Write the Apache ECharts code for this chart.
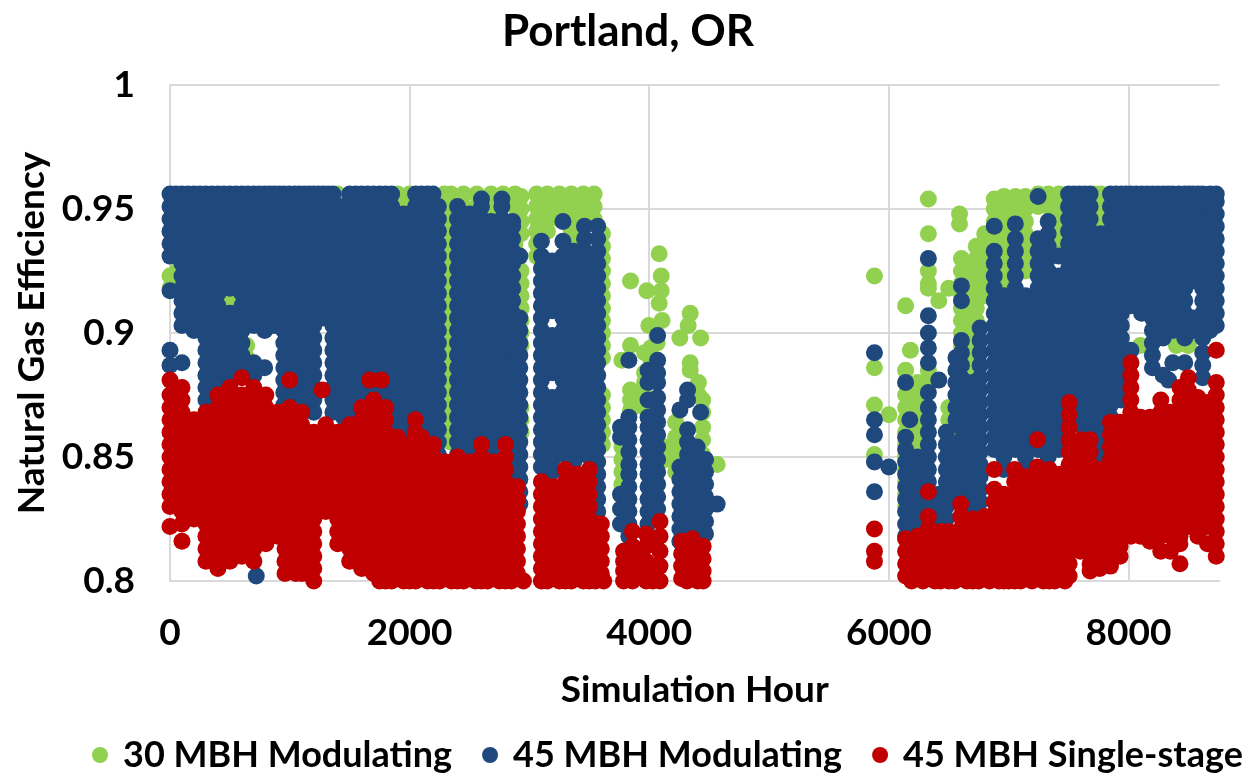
<!DOCTYPE html>
<html><head><meta charset="utf-8">
<script src="https://cdn.jsdelivr.net/npm/echarts@6/dist/echarts.min.js"></script>
<style>html,body{margin:0;padding:0;background:#fff}#c{width:1249px;height:775px}</style></head>
<body><div id="c"></div><script>
// Each row: [simulation hour, efficiency x 1000, ...].
const seriesNames = ['30 MBH Modulating','45 MBH Modulating','45 MBH Single-stage'];
const green30 = [
[0,923,918],[60,925],[200,905],[500,913,908],[640,895,890],
[1400,956,951],[1650,915],[1900,956,951],[2000,956,951],[2290,956],
[2345,956,951,946,941,936,931,926,921,916,911,906,901,896,891,886,881,876,871,866,861,856],
[2450,956,951],[2560,956,951],[2680,956,951,946],[2780,956],[2880,956,951,946,941,936,931,926,921,916],
[2930,955,950,945,940,925,920,915,910,905,900,895,870,865,860],
[3060,956,951,946,941,936,931],[3150,956,951,946,941],[3250,956,951,946],[3350,956,951,946,941,936],
[3450,956,951,946],[3540,956,951,946],[3610,940,935,930,925,920,915,910,905,900,895,890,875,870,865,860,855],
[3772,889,854,849,844,839,834],[3844,921,895,877,873,869],[3961,892,884,880,875,870],[3980,917],[3997,903],
[4014,894,889],[4066,896],[4083,932,912],[4100,923,917],[4107,905],[4135,854,849],
[4221,864,858,854,849,844],[4256,898],[4325,903],[4342,908,888,885],[4411,880,875],[4429,898],[4446,873,868,862,857,851,846],[4567,847],
[5880,923,886,871,851],[6000,867],
[6140,911,885,880,875,870,865,860,855,850,845,840,835,830],[6180,893],
[6240,880,875,870,865,860,855],[6330,954,940,925,920,918,885,880],[6417,913],
[6500,918,870,865,860,855,850,845,840],[6590,948,944],
[6606,930,925,920,915,910,905,900,895,890],[6660,925,920,915,905,900,895,890],
[6730,935,930,925,920,915,910,905,895,890,885],[6800,940,935,930,925,920,915],
[6880,954,950,945,940,935,930,925,920],[6960,955,950,945,940,935,930,925,920],
[7056,955,950,945,940,935,930],[7140,955,950,945,940,935,930,925],[7246,956,951],[7330,956,951],
[7420,956,951,946,941,936],[7720,956,951,946,941,936,931,926],[7770,956,951,946,931],
[8100,895],[8400,895],[8500,895]
];
const blue45 = [
[0,956,951,946,941,936,931,917,893,887],
[100,956,953,948,943,938,933,928,923,918,913,908,903,888],
[200,956,951,946,941,936,931,926,921,916,911,906,901],
[300,956,953,948,943,938,933,928,923,918,913,908,903,898,893,888,883,878,873],
[400,956,951,946,941,936,931,926,921,916,911,906,901,896,891,886,881,876,871],
[500,956,953,948,943,938,933,928,923,918,908,903,898,893,888,883,878],
[600,956,951,946,941,936,931,926,921,916,911,906,901,896,891,886],
[700,956,953,948,943,938,933,928,923,918,913,908,903,888,883],
[720,802],
[790,956,951,946,941,936,931,926,921,916,911,906,901,886],
[870,956,953,948,943,938,933,928,923,918,913,908,903],
[950,956,951,946,941,936,931,926,921,916,911,906,901,896,891,886,881,876,871],
[1040,956,953,948,943,938,933,928,923,918,913,908,903,898,893,888,883,878,873],
[1120,956,951,946,941,936,931,926,921,916,911,906,901,896,891,886,881,876,871],
[1200,956,953,948,943,938,933,928,923,918,913,908,903,898,893,888,883,878,873,868],
[1280,956,951,946,941,936,931,926,921,916,911,906],
[1360,956,953,948,943,938,933,928,923,918,913,908,903,898,893,888,883,878,873,868],
[1450,951,946,941,936,931,926,921,916,911,906,901,896,891,886,881,876,871,866],
[1550,956,953,948,943,938,933,928,923,918,913,908,903,898,893,888,883,878,873,868],
[1650,956,951,946,941,936,931,926,921,916,911,906,901,896,891,886,881,876,871],
[1750,956,953,948,943,938,933,928,923,918,913,908,903,898,893,888,883,878,873,868],
[1850,956,951,946,941,936,931,926,921,916,911,906,901,896,891,886,881,876,871,866,861,856],
[1950,948,943,938,933,928,923,918,913,908,903,898,893,888,883,878,873,868,863,858,853],
[2050,956,951,946,941,936,931,926,921,916,911,906,901,896,891,886,881,876,871,866,861],
[2150,956,953,948,943,938,933,928,923,918,913,908,903,898,893,888,883,878,873,868,863,858,853],
[2240,951,946,941,936,931,926,921,916,911,906,901,896,891,886,881,876,871,866,861,856,851,846,841,836],
[50,956],[150,956],[250,956],[350,956],[450,956],[550,956],[650,956],[745,956],[830,956],[910,956],[995,956],[1080,956],[1160,956],[1240,956],[1320,956],[1500,956],[1600,956],[1700,956],[1800,956],[2100,956],[2195,956],
[2400,951,946,941,936,931,926,921,916,911,906,901,896,891,886,881,876,871,866,861,856,851],
[2500,948,943,938,933,928,923,918,913,908,903,898,893,888,883,878,873,868,863,858,853,848],
[2600,954,951,946,941,936,931,926,921,916,911,906,901,896,891,886,881,876,871,866,861,856],
[2680,945,943,938,933,928,923,918,913,908,903,898,893,888,883,878,873,868,863,858,853,848],
[2770,954,951,946,941,936,931,926,921,916,911,906,901,896,891,886,881,876,871,866,861,856],
[2860,945,943,938,933,928,923,918,913,908,903,898,893,888,883,878,873,868,863,858,853,848,843,838],
[2920,931,906,901,896,891,886,881,876,871,866,861,856,851,846,841,836,831],
[3100,937,931,926,921,916,911,906,901,896,891,886,881,876,871,866,861,856,851,846],
[3190,929,924,919,914,909,899,894,889,884,874,869,864,859,854,849,844],
[3280,945,937,931,926,921,916,911,906,901,896,891,886,881,876,871,866,861,856,851],
[3370,933,928,923,918,913,908,903,898,893,888,883,878,873,868,863,858,853,848],
[3460,943,938,933,931,926,921,916,911,906,901,896,891,886,881,876,871,866,861,856,851],
[3570,943,938,933,928,923,918,913,908,903,898,893,888,883,878,873,868,863,858,853,848,843,838,833,828],
[3760,862,858,835,829,823],
[3830,889,866,862,857,852,847,843,838,833,828,823,818],
[3990,885,880,873,866,862,857,852,847,843,838,833,828,823,818],
[4070,899,889,884,880,874,869,864,859,854,849,844,839,834,829,825],
[4256,869,846,841,836,831,826,821,816],
[4320,877,873,861,856,851,846,841,836,831,826,821,816],
[4400,854,849,844,839,834,829,824,819],
[4470,849,844,839,834,829,824,819],
[4429,868],[4567,831],
[5880,892,865,859,848,836],[6000,846],
[6140,880,858,853,848,843,838,833,828,823,818],[6175,865],
[6240,850,845,840,835,830,825,820,815],
[6330,930,907,900,894,888,876,870,865,860,855,850,845,840,835,830],
[6417,881,835,830,825,820,815],
[6480,860,855,850,845,840,835,830,825,820,815],
[6560,890,885,880,875,870,865,855,850,845,840,835],
[6606,919,913,897,892,887,882,877,872,867,862,857,852,847,842,837,832],
[6700,880,875,870,865,860,855,850,845,840,835,830,825],
[6762,902,897,892,887,882,877,872,867,862,857,852,847,842,837,832],
[6880,943,933,928,923,918,913,908,903,898,893,888,883,878,873,868,863,858,853],
[6960,915,910,905,900,895,890,885,880,875,870,865,860,855,850,845],
[7056,944,938,933,928,923,918,913,908,903,898,893,888,883,878,873,868,863,858,853],
[7140,915,910,905,900,895,890,885,880,875,870,865,860,855,850,845],
[7246,955,938,933,928,923,918,913,908,903,898,893,888,883,878,873,868,863,858,853],
[7330,945,940,935,930,925,920,915,910,905,900,895,890,885,880,875,870,865,860,855,850],
[7420,931,923,918,913,908,903,898,893,888,883,878,873,868,863,858,853],
[7500,956,951,946,941,936,931,926,921,916,911,906,901,896,891,886,881,876],
[7590,956,953,948,943,938,933,928,923,918,913,908,903,898,893,888,883,878,873,868,863],
[7680,956,951,946,941,936,931,926,921,916,911,906,901,896,891,886,881,876,871,866,861],
[7770,940,935,930,925,920,915,910,905,900,895,890,885,880,875,870,865,860,855,850],
[7850,956,951,946,941,936,931,926,921,916,911,906,901,896,891,886,881,876,871,866],
[7940,956,953,948,943,938,933,928,923,918,913,908,903,898,893,888,883,878,873],
[8020,956,951,946,941,936,931,926,921,916,911,893,888],
[8110,956,953,948,943,938,933,928,923,918,913,908],
[8200,956,951,946,941,936,931,926,921,916,911,906,901,896,891,886],
[8290,956,953,948,943,938,933,928,923,918,913,908,903,898,883],
[8370,956,951,946,941,936,931,926,921,916,911,906,901,888],[8335,881],
[8470,956,953,948,943,938,933,928,923,918,913,908,903,898,888],
[8540,956,951,946,941,936,931,926,921,906,901],
[8620,956,953,948,943,938,933,928,923,918,913,908,903,898,892,887,882],
[8680,956,951,946,941,936,931,926,921,916,911,906,901],
[8733,956,953,948,943,938,933,928,923,918,913,908,903],
[7545,956],[7635,956],[7895,956],[7980,956],[8065,956],[8155,956],[8245,956],[8330,956],[8420,956],[8505,956],[8580,956]
];
const red45 = [
[0,881,875,870,865,860,855,850,845,840,835,830,822],
[100,878,873,868,863,858,853,848,843,838,833,828,823,816],
[200,865,860,855,850,845,840,835,830,825],
[300,868,863,858,853,848,843,838,833,828,823,818,813,808],
[400,875,870,865,860,855,850,845,840,835,830,825,820,815,810,805],
[500,878,873,868,863,858,853,848,843,838,833,828,823,818,813,808],
[600,882,875,870,865,860,855,850,845,840,835,830,825,820,815,810],
[700,878,873,868,863,858,853,848,843,838,833,828,823,818,813,808],
[800,875,870,865,860,855,850,845,840,835,830,825,820,815],
[900,868,863,858,853,848,843,838,833,828,823,818],
[960,863,858,853,848,843,838,833,828,823,818,813,808,803],
[1000,881,870,865,860,855,850,845,840,835,830,825,820,815,810,805],
[1050,803],[1150,803],
[1100,868,863,858,853,848,843,838,833,828,823,818,813,808,803],
[1200,860,855,850,845,840,835,830,825,820,815,810,805,800],
[1270,877],
[1300,863,858,853,848,843,838,833,828],
[1400,860,855,850,845,840,835,830,825,820,815],
[1500,863,858,853,848,843,838,833,828,823,818,813,808],
[1600,870,865,860,855,850,845,840,835,830,825,820,815,810,805],
[1667,881],[1764,881],
[1700,873,868,863,858,853,848,843,838,833,828,823,818,813,808,803],
[1800,870,865,860,855,850,845,840,835,830,825,820,815,810,805,800],
[1900,858,853,848,843,838,833,828,823,818,813,808,803],
[2000,855,850,845,840,835,830,825,820,815,810,805,800],
[2047,865,860],
[2100,858,853,848,843,838,833,828,823,818,813,808,803],
[2200,855,850,845,840,835,830,825,820,815,810,805,800],
[2300,848,843,838,833,828,823,818,813,808,803],
[2400,850,845,840,835,830,825,820,815,810,805,800],
[2500,848,843,838,833,828,823,818,813,808,803],
[2600,855,850,845,840,835,830,825,820,815,810,805,800],
[2700,848,843,838,833,828,823,818,813,808,803],
[2800,855,850,845,840,835,830,825,820,815,810,805,800],
[2900,838,833,828,823,818,813,808,803],
[3100,840,835,830,825,820,815,810,805,800],
[3200,838,833,828,823,818,813,808,803],
[3300,845,840,835,830,825,820,815,810,805,800],
[3400,843,838,833,828,823,818,813,808,803],
[3500,845,840,835,830,825,820,815,810,805,800],
[3600,823,818,813,808,803],
[1750,800],[1850,800],[1950,800],[2050,800],[2150,800],[2250,800],[2350,800],[2450,800],[2550,800],[2650,800],[2750,800],[2850,800],[2950,800],
[3150,800],[3250,800],[3350,800],[3450,800],[3550,800],[3620,800],
[3786,812,808,804,800],[3860,820,814,809,804,800],[3925,812,804],[3975,819,814,808,804,800],[4030,816,806,800],[4090,824,818,812,806,800],
[4270,816,811,806,801],[4360,817,812,807,802],[4450,814,809,804,800],[4315,808,800],[4405,808,800],
[5880,821,812,808],
[6140,817,812,807,802],[6240,818,813,808,803],[6330,836,826,821,816,811,806,801],
[6430,820,815,810,805,800],[6500,820,815,810,805,800],[6600,831,826,821,816,811,806,801],
[6700,825,820,815,810,805,800],[6800,826,821,816,811,806,801],
[6880,845,837,832,827,822,817,812,807,802],[6960,835,830,825,820,815,810,805,800],
[7050,845,840,835,830,825,820,815,810,805,800],[7150,842,837,832,827,822,817,812,807,802],
[7240,857,846,841,836,831,826,821,816,811,806,801],[7340,845,840,835,830,825,820,815,810,805,800],
[7430,843,838,833,828,823,818,813,808,803],
[7505,872,867,862,857,852,847,842,837,832,827,822,817,812,807,802],
[6190,800],[6285,800],[6385,800],[6550,800],[6650,800],[6750,800],[6840,800],[6920,800],[7000,800],[7100,800],[7195,800],[7290,800],[7385,800],[7470,800],
[7600,857,852,847,842,837,832,827,822,817,812],[7680,857,852,847,842,837,832,827,822,817,812,807,804],
[7760,845,840,835,830,825,820,815,810,805],[7850,864,859,854,849,844,839,834,829,824,819,814,809,806],
[7930,864,859,854,849,844,839,834,829,824,819,814,810],
[8020,888,883,878,873,868,863,858,853,848,843,838,833,828,823,818],
[8100,866,861,856,851,846,841,836,831,826,821,818],[8180,866,861,856,851,846,841,836,831,826,821,816],
[8270,873,868,863,858,853,848,843,838,833,828,823,818,812],[8350,868,863,858,853,848,843,838,833,828,823,818,812],
[8430,878,873,868,863,858,853,848,843,838,833,828,823,818,815,807],[8500,882,877,872,867,862,857,852,847,842,837,832,827,822],
[8580,874,869,864,859,854,849,844,839,834,829,824,818],[8660,872,867,862,857,852,847,842,837,832,827,822,815],
[8733,893,880,875,870,865,860,855,850,845,840,835,830,825,820,815,810]
];
const xMax = 8760;
const font = 'Lato';
function points(rows){const out=[];rows.forEach(r=>{for(let i=1;i<r.length;i++)out.push([r[0],r[i]/1000]);});return out;}
const chart = echarts.init(document.getElementById('c'),null,{renderer:'canvas'});
const mk=(name,rows,color)=>({name,type:'scatter',data:points(rows),symbolSize:17,itemStyle:{color,opacity:1},clip:false,animation:false,silent:true});
chart.setOption({
 animation:false,backgroundColor:'#fff',
 title:{text:'Portland, OR',left:497,top:5,textStyle:{fontFamily:font,fontWeight:'bold',fontSize:44,color:'#000'}},
 grid:{left:170,right:29.5,top:85,bottom:194,containLabel:false},
 legend:{data:seriesNames.map(n=>({name:n,icon:'circle'})),left:87,top:732,itemWidth:16,itemHeight:16,itemGap:30,
   textStyle:{fontFamily:font,fontWeight:'bold',fontSize:36,color:'#000',padding:[0,0,0,10]}},
 xAxis:{type:'value',min:0,max:xMax,interval:2000,name:'Simulation Hour',nameLocation:'middle',nameGap:109,
   nameTextStyle:{fontFamily:font,fontWeight:'bold',fontSize:37,color:'#000',verticalAlign:'middle'},
   axisLine:{lineStyle:{color:'#d9d9d9',width:2}},axisTick:{show:false},
   axisLabel:{fontFamily:font,fontWeight:'bold',fontSize:37,color:'#000',margin:34,showMaxLabel:false,hideOverlap:false,formatter:v=>String(v)},
   splitLine:{show:true,showMaxLine:false,lineStyle:{color:'#d9d9d9',width:2}}},
 yAxis:{type:'value',min:0.8,max:1,interval:0.05,name:'Natural Gas Efficiency',nameLocation:'middle',nameGap:137,
   nameTextStyle:{fontFamily:font,fontWeight:'bold',fontSize:37,color:'#000',verticalAlign:'middle'},
   axisLine:{show:true,lineStyle:{color:'#d9d9d9',width:2}},axisTick:{show:false},
   axisLabel:{fontFamily:font,fontWeight:'bold',fontSize:37,color:'#000',margin:35},
   splitLine:{show:true,lineStyle:{color:'#d9d9d9',width:2}}},
 series:[mk(seriesNames[0],green30,'#92D050'),mk(seriesNames[1],blue45,'#1F497D'),mk(seriesNames[2],red45,'#C00000')]
});
</script></body></html>
